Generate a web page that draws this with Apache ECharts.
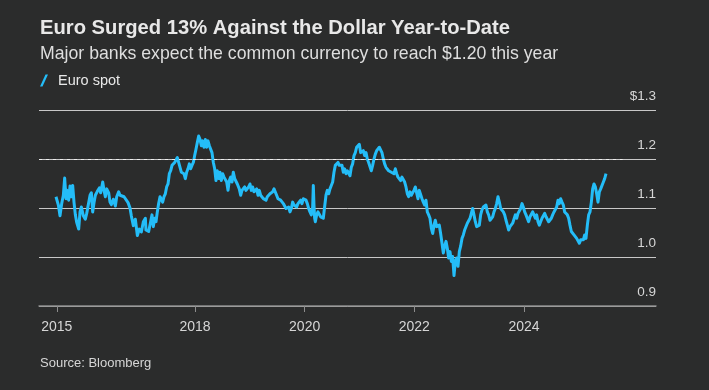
<!DOCTYPE html>
<html><head><meta charset="utf-8">
<script src="https://cdn.jsdelivr.net/npm/echarts@6/dist/echarts.min.js"></script>
<style>html,body{margin:0;padding:0;background:#2b2c2c;}#c{width:709px;height:390px;}</style>
</head><body><div id="c"></div>
<script>
// Time as decimal years, EUR/USD spot
const years = [
2015.465,2015.508,2015.538,2015.569,2015.599,2015.623,2015.648,2015.672,2015.696,2015.721,2015.745,2015.769,2015.794,2015.818,2015.842,2015.879,2015.903,2015.928,2015.964,2016.000,
2016.025,2016.061,2016.086,2016.110,2016.134,2016.159,2016.183,2016.219,2016.256,2016.280,2016.317,2016.341,2016.365,2016.390,2016.426,2016.450,2016.475,2016.511,2016.548,2016.572,
2016.608,2016.633,2016.669,2016.706,2016.742,2016.779,2016.815,2016.839,2016.876,2016.912,2016.949,2016.985,2017.022,2017.058,2017.095,
2017.106,2017.131,2017.155,2017.191,2017.216,2017.240,2017.264,2017.289,2017.313,2017.337,2017.362,2017.386,2017.410,2017.435,2017.459,2017.483,2017.508,2017.532,2017.556,2017.581,
2017.605,2017.629,2017.654,2017.678,2017.702,2017.727,2017.751,2017.775,2017.799,2017.824,2017.848,2017.872,2017.897,2017.921,2017.945,2017.970,2017.994,2018.018,2018.043,2018.067,
2018.091,2018.116,2018.140,2018.164,2018.189,2018.213,2018.237,2018.262,2018.286,2018.310,2018.335,2018.359,2018.383,2018.407,2018.432,2018.456,2018.480,2018.505,2018.529,2018.553,
2018.578,2018.602,2018.626,2018.651,2018.675,2018.699,2018.724,2018.748,2018.772,
2018.784,2018.808,2018.833,2018.857,2018.881,2018.906,2018.930,2018.954,2018.979,2019.003,2019.027,2019.051,2019.076,2019.100,2019.124,2019.149,2019.173,2019.197,2019.222,2019.246,
2019.270,2019.295,2019.319,2019.343,2019.368,2019.392,2019.416,2019.441,2019.465,2019.489,2019.514,2019.538,2019.562,2019.587,2019.611,2019.635,2019.660,2019.684,2019.708,2019.732,
2019.757,2019.781,2019.805,2019.830,2019.854,2019.878,2019.903,2019.927,2019.951,2019.976,2020.000,2020.024,2020.049,2020.073,2020.097,2020.122,2020.146,2020.158,2020.170,2020.182,
2020.195,2020.219,2020.243,2020.267,2020.292,2020.316,2020.340,2020.365,2020.389,2020.413,2020.438,2020.462,
2020.486,2020.511,2020.535,2020.559,2020.584,2020.608,2020.632,2020.657,2020.681,2020.705,2020.729,2020.754,2020.778,2020.802,2020.827,2020.851,2020.875,2020.900,2020.924,2020.948,
2020.973,2020.997,2021.021,2021.046,2021.070,2021.094,2021.119,2021.143,2021.167,2021.192,2021.216,2021.240,2021.265,2021.289,2021.313,2021.337,2021.362,2021.386,2021.410,2021.435,
2021.459,2021.483,2021.508,2021.532,2021.556,2021.581,2021.605,2021.629,2021.654,2021.678,2021.702,2021.727,2021.751,2021.775,2021.800,2021.824,2021.848,2021.873,2021.897,2021.921,
2021.945,2021.970,2021.994,2022.018,2022.043,2022.067,2022.091,2022.116,2022.140,
2022.164,2022.189,2022.213,2022.237,2022.262,2022.286,2022.310,2022.335,2022.359,2022.383,2022.407,2022.432,2022.456,2022.480,2022.505,2022.529,2022.553,2022.578,2022.602,2022.626,
2022.651,2022.675,2022.699,2022.724,2022.748,2022.772,2022.797,2022.821,2022.845,2022.870,2022.894,2022.918,2022.943,2022.967,2022.991,2023.016,2023.040,2023.064,2023.088,2023.113,
2023.137,2023.161,2023.186,2023.210,2023.234,2023.259,2023.283,2023.307,2023.332,2023.356,2023.380,2023.405,2023.429,2023.453,2023.478,2023.502,2023.526,2023.551,2023.575,2023.599,
2023.624,2023.648,2023.672,2023.697,2023.721,2023.745,2023.770,2023.794,2023.818,
2023.842,2023.867,2023.891,2023.915,2023.940,2023.964,2023.988,2024.013,2024.037,2024.061,2024.085,2024.110,2024.134,2024.158,2024.183,2024.207,2024.231,2024.256,2024.280,2024.304,
2024.329,2024.353,2024.377,2024.402,2024.426,2024.450,2024.475,2024.499,2024.523,2024.548,2024.572,2024.596,2024.621,2024.645,2024.669,2024.694,2024.718,2024.742,2024.766,2024.791,
2024.815,2024.839,2024.864,2024.888,2024.912,2024.937,2024.961,2024.985,2025.010,2025.034,2025.058,2025.083,2025.107,2025.131,2025.156,2025.180,2025.204,2025.229,2025.253,2025.277,
2025.302,2025.326,2025.350,2025.375,2025.399,2025.423,2025.448,2025.472,2025.496
];
const euroSpot = [
1.123,1.106,1.084,1.109,1.126,1.161,1.119,1.136,1.116,1.145,1.123,1.146,1.111,1.086,1.071,1.057,1.092,1.102,1.084,1.077,
1.089,1.092,1.126,1.131,1.092,1.111,1.126,1.134,1.141,1.131,1.153,1.136,1.123,1.139,1.131,1.112,1.107,1.118,1.104,1.123,
1.133,1.126,1.125,1.123,1.121,1.111,1.100,1.084,1.064,1.077,1.044,1.057,1.051,1.072,1.079,
1.055,1.059,1.052,1.072,1.086,1.062,1.079,1.072,1.092,1.109,1.123,1.126,1.112,1.123,1.129,1.143,1.149,1.170,1.176,1.187,
1.183,1.193,1.197,1.203,1.193,1.183,1.173,1.176,1.170,1.160,1.173,1.180,1.190,1.180,1.187,1.193,1.207,1.220,1.234,1.247,
1.240,1.227,1.237,1.224,1.240,1.224,1.237,1.227,1.230,1.213,1.193,1.180,1.156,1.176,1.160,1.173,1.156,1.170,1.163,1.166,
1.153,1.136,1.156,1.163,1.153,1.173,1.160,1.163,1.149,
1.146,1.139,1.126,1.136,1.133,1.143,1.136,1.136,1.143,1.149,1.136,1.143,1.133,1.129,1.139,1.126,1.136,1.126,1.129,1.119,
1.123,1.116,1.123,1.119,1.129,1.126,1.133,1.139,1.136,1.126,1.119,1.123,1.116,1.116,1.109,1.106,1.099,1.096,1.102,1.092,
1.099,1.112,1.106,1.109,1.102,1.109,1.112,1.116,1.109,1.119,1.123,1.116,1.109,1.099,1.092,1.086,1.102,1.146,1.106,1.079,
1.072,1.086,1.092,1.089,1.082,1.086,1.079,1.082,1.126,1.136,1.129,1.139,
1.146,1.153,1.173,1.187,1.190,1.193,1.187,1.183,1.187,1.173,1.180,1.170,1.176,1.180,1.166,1.183,1.190,1.207,1.213,1.224,
1.227,1.230,1.213,1.210,1.217,1.207,1.213,1.200,1.193,1.190,1.176,1.187,1.200,1.210,1.217,1.220,1.224,1.220,1.213,1.200,
1.190,1.183,1.187,1.176,1.180,1.173,1.176,1.170,1.180,1.170,1.163,1.160,1.156,1.163,1.160,1.153,1.143,1.129,1.123,1.133,
1.126,1.129,1.136,1.143,1.139,1.119,1.136,1.133,1.119,
1.112,1.106,1.116,1.092,1.086,1.079,1.059,1.048,1.065,1.075,1.062,1.059,1.065,1.048,1.028,1.008,1.022,1.032,1.018,0.998,
1.011,0.991,1.001,0.962,0.991,0.998,0.981,1.011,1.022,1.038,1.045,1.055,1.059,1.069,1.065,1.079,1.089,1.099,1.086,1.072,
1.062,1.059,1.065,1.086,1.096,1.102,1.102,1.106,1.092,1.086,1.075,1.072,1.082,1.092,1.099,1.109,1.123,1.112,1.099,1.102,
1.092,1.086,1.075,1.065,1.055,1.062,1.059,1.069,1.072,
1.086,1.079,1.089,1.092,1.099,1.109,1.102,1.092,1.086,1.082,1.072,1.082,1.086,1.092,1.086,1.079,1.086,1.072,1.065,1.072,
1.079,1.082,1.089,1.082,1.086,1.072,1.069,1.079,1.086,1.092,1.096,1.102,1.116,1.109,1.119,1.112,1.106,1.092,1.096,1.086,
1.079,1.065,1.052,1.055,1.045,1.048,1.038,1.035,1.028,1.035,1.038,1.035,1.045,1.038,1.065,1.086,1.092,1.112,1.139,1.149,
1.143,1.129,1.112,1.133,1.139,1.143,1.153,1.160,1.170
];
const seriesName = 'Euro spot';
const targetLevel = 1.2;      // banks' $1.20 target
const targetEndYear = 2025.8;
const yTicks = [0.9, 1.0, 1.1, 1.2, 1.3];
const yTickLabels = ['0.9', '1.0', '1.1', '1.2', '$1.3'];
const xTickYears = [2015.48, 2018, 2020, 2022, 2024];
const xTickLabels = ['2015', '2018', '2020', '2022', '2024'];

const xMin = 2015.155, xMax = 2026.408;
const FONT = "'Liberation Sans', Arial, sans-serif";

const chart = echarts.init(document.getElementById('c'), null, {renderer: 'canvas'});
const data = years.map((y, i) => [y, euroSpot[i]]);

function nearestLabel(v, keys, labels) {
  let best = 0;
  for (let i = 1; i < keys.length; i++) if (Math.abs(keys[i] - v) < Math.abs(keys[best] - v)) best = i;
  return labels[best];
}

chart.setOption({
  backgroundColor: '#2b2c2c',
  animation: false,
  textStyle: {fontFamily: FONT},
  title: [
    {text: 'Euro Surged 13% Against the Dollar Year-to-Date', left: 40, top: 18, padding: 0,
     textStyle: {color: '#e8e8e8', fontSize: 20.2, fontWeight: 'bold', fontFamily: FONT, lineHeight: 20}},
    {text: 'Major banks expect the common currency to reach $1.20 this year', left: 40, top: 45, padding: 0,
     textStyle: {color: '#dedede', fontSize: 17.7, fontWeight: 'normal', fontFamily: FONT, lineHeight: 18}},
    {text: 'Source: Bloomberg', left: 40, top: 356, padding: 0,
     textStyle: {color: '#d6d6d6', fontSize: 13, fontWeight: 'normal', fontFamily: FONT, lineHeight: 14}}
  ],
  legend: {
    left: 40, top: 73, padding: 0, itemWidth: 8, itemHeight: 12,
    data: [{name: seriesName, icon: 'path://M5.5,0 L8,0 L2.5,12 L0,12 Z'}],
    textStyle: {color: '#e8e8e8', fontSize: 14.5, fontFamily: FONT, padding: [0, 0, 0, 5]},
    selectedMode: false
  },
  grid: {left: 39, right: 53, top: 110, bottom: 84, containLabel: false, outerBoundsMode: 'none'},
  xAxis: {
    type: 'value', min: xMin, max: xMax,
    axisLine: {show: true, lineStyle: {color: '#8c8c8c', width: 1.5}},
    axisTick: {show: true, customValues: xTickYears, length: 6, lineStyle: {color: '#8c8c8c', width: 1}},
    axisLabel: {customValues: xTickYears, formatter: v => nearestLabel(v, xTickYears, xTickLabels),
      color: '#d6d6d6', fontSize: 14, margin: 14, fontFamily: FONT},
    splitLine: {show: false}
  },
  yAxis: {
    type: 'value', position: 'right', min: 0.9, max: 1.3, interval: 0.1,
    axisLine: {show: false}, axisTick: {show: false},
    splitLine: {show: true, lineStyle: {color: '#c8c8c8', width: 1}},
    axisLabel: {inside: true, margin: 0, align: 'right', verticalAlign: 'bottom', padding: [0, 0, 7, 0],
      color: '#d6d6d6', fontSize: 13.5, fontFamily: FONT,
      formatter: v => nearestLabel(v, yTicks, yTickLabels)}
  },
  series: [{
    name: seriesName, type: 'line', data: data, showSymbol: false, symbol: 'none',
    lineStyle: {color: '#24bdf8', width: 3, join: 'round'},
    itemStyle: {color: '#24bdf8'},
    markLine: {
      silent: true, symbol: 'none', label: {show: false},
      lineStyle: {color: '#ececec', width: 1.2, type: [3, 4]},
      data: [[{coord: [xMin, targetLevel]}, {coord: [targetEndYear, targetLevel]}]]
    }
  }]
});
</script></body></html>
